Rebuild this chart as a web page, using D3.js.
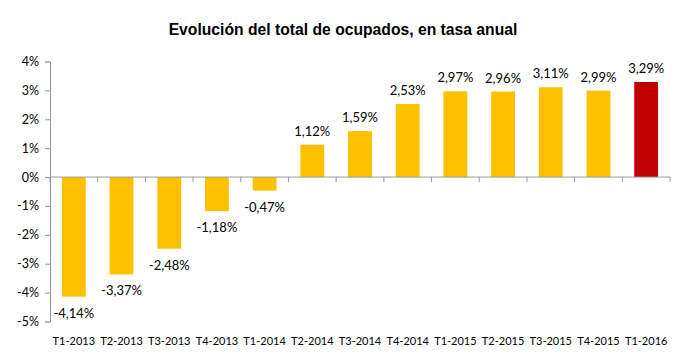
<!DOCTYPE html>
<html>
<head>
<meta charset="utf-8">
<script src="https://cdn.jsdelivr.net/npm/d3@7"></script>
<style>
  body { margin: 0; background: #fff; }
  text { font-family: Lato, "Open Sans", sans-serif; }
</style>
</head>
<body>
<div id="chart"></div>
<script>
const categories = ["T1-2013", "T2-2013", "T3-2013", "T4-2013", "T1-2014", "T2-2014", "T3-2014",
    "T4-2014", "T1-2015", "T2-2015", "T3-2015", "T4-2015", "T1-2016"];
const values = [-4.14, -3.37, -2.48, -1.18, -0.47, 1.12, 1.59, 2.53, 2.97, 2.96, 3.11, 2.99, 3.29];
const yTicks = [4, 3, 2, 1, 0, -1, -2, -3, -4, -5];
const title = "Evolución del total de ocupados, en tasa anual";

const width = 677, height = 361;
const margin = {top: 61.5, right: 7, bottom: 39.5, left: 50};
const innerW = width - margin.left - margin.right;
const innerH = height - margin.top - margin.bottom;

const svg = d3.select("#chart").append("svg")
    .attr("width", width)
    .attr("height", height);

svg.append("text")
    .attr("x", 343)
    .attr("y", 35)
    .attr("text-anchor", "middle")
    .style("font-family", "'Liberation Sans', Arial, sans-serif")
    .style("font-weight", "bold")
    .style("font-size", "15.7px")
    .text(title);

const g = svg.append("g")
    .attr("transform", "translate(" + margin.left + "," + margin.top + ")");

const x = d3.scaleBand()
    .domain(categories)
    .range([0, innerW])
    .paddingInner(0.5)
    .paddingOuter(0.25);

const y = d3.scaleLinear()
    .domain([-5, 4])
    .range([innerH, 0]);

const fmt = v => d3.format(".2f")(v).replace(".", ",").replace("−", "-") + "%";

// y axis
const yAxis = g.append("g")
    .call(d3.axisLeft(y).tickValues(yTicks).tickSize(5).tickPadding(6)
        .tickFormat(d => d + "%"));
yAxis.select(".domain").attr("stroke", "#999");
yAxis.selectAll(".tick line").attr("stroke", "#999");
yAxis.selectAll("text").style("font-size", "12.5px").attr("fill", "#000");

// bars
g.selectAll(".bar")
    .data(values)
    .enter().append("rect")
    .attr("class", "bar")
    .attr("x", (d, i) => x(categories[i]))
    .attr("width", x.bandwidth())
    .attr("y", d => y(Math.max(0, d)))
    .attr("height", d => Math.abs(y(d) - y(0)))
    .attr("fill", (d, i) => i === values.length - 1 ? "#C00000" : "#FFC000");

// x axis at zero with ticks at band boundaries
const step = x.step();
const xLine = g.append("g").attr("transform", "translate(0," + y(0) + ")");
xLine.append("line")
    .attr("x1", 0).attr("x2", innerW)
    .attr("stroke", "#999");
xLine.selectAll(".xtick")
    .data(d3.range(categories.length + 1))
    .enter().append("line")
    .attr("x1", i => i * step).attr("x2", i => i * step)
    .attr("y1", 0).attr("y2", 5)
    .attr("stroke", "#999");

// category labels at the bottom
g.selectAll(".cat")
    .data(categories)
    .enter().append("text")
    .attr("x", d => x(d) + x.bandwidth() / 2)
    .attr("y", innerH + 23.5)
    .attr("text-anchor", "middle")
    .style("font-size", "11px")
    .text(d => d);

// value labels
g.selectAll(".lbl")
    .data(values)
    .enter().append("text")
    .attr("x", (d, i) => x(categories[i]) + x.bandwidth() / 2)
    .attr("y", d => d >= 0 ? y(d) - 9 : y(d) + 21)
    .attr("text-anchor", "middle")
    .style("font-size", "13px")
    .text(d => fmt(d));
</script>
</body>
</html>
